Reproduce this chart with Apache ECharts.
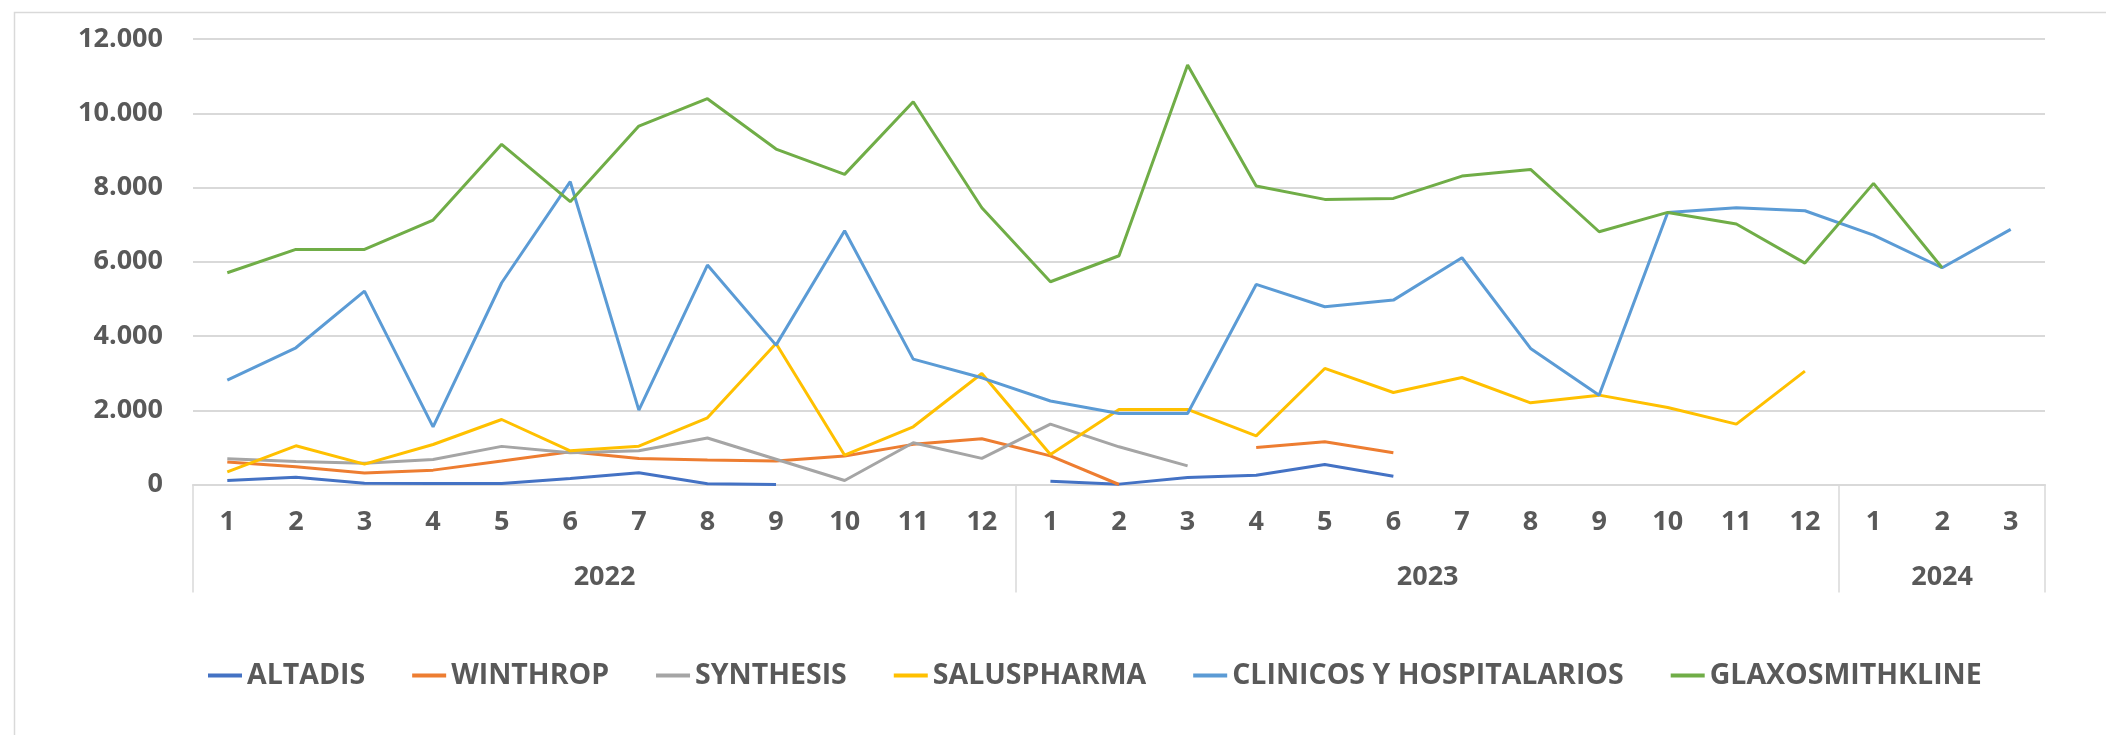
<!DOCTYPE html>
<html>
<head>
<meta charset="utf-8">
<script src="https://cdn.jsdelivr.net/npm/echarts@6/dist/echarts.min.js"></script>
<style>
  html, body { margin: 0; padding: 0; background: #fff; }
  #main { width: 2106px; height: 735px; }
</style>
</head>
<body>
<div id="main"></div>
<script>
// meses y años (eje de categorías de dos niveles)
var months = ['1','2','3','4','5','6','7','8','9','10','11','12',
              '1','2','3','4','5','6','7','8','9','10','11','12',
              '1','2','3'];
var years = ['2022', '2023', '2024'];
var yearLengths = [12, 12, 3];

var seriesNames = ['ALTADIS', 'WINTHROP', 'SYNTHESIS', 'SALUSPHARMA', 'CLINICOS Y HOSPITALARIOS', 'GLAXOSMITHKLINE'];

var altadis = [108, 198, 35, 27, 27, 162, 315, 18, 0, null, null, null,
               90, 10, 189, 251, 539, 225, null, null, null, null, null, null,
               null, null, null];
var winthrop = [604, 477, 310, 387, 631, 883, 703, 658, 631, 766, 1081, 1234,
                770, 0, null, 997, 1150, 853, null, null, null, null, null, null,
                null, null, null];
var synthesis = [694, 622, 575, 676, 1027, 856, 910, 1252, 680, 108, 1126, 703,
                 1626, 1015, 503, null, null, null, null, null, null, null, null, null,
                 null, null, null];
var saluspharma = [341, 1042, 550, 1078, 1751, 907, 1033, 1796, 3799, 790, 1554, 2991,
                   808, 2021, 2021, 1311, 3126, 2479, 2883, 2201, 2407, 2075, 1626, 3054,
                   null, null, null];
var clinicos = [2811, 3683, 5210, 1554, 5434, 8156, 2003, 5910, 3754, 6835, 3377, 2874,
                2250, 1913, 1913, 5389, 4787, 4967, 6108, 3665, 2407, 7329, 7455, 7374,
                6719, 5838, 6871];
var glaxo = [5704, 6332, 6332, 7123, 9162, 7617, 9656, 10392, 9036, 8353, 10311, 7455,
             5461, 6162, 11299, 8039, 7680, 7706, 8308, 8488, 6808, 7329, 7015, 5964,
             8111, 5838, null];

var colors = ['#4472C4', '#ED7D31', '#A5A5A5', '#FFC000', '#5B9BD5', '#70AD47'];
var allData = [altadis, winthrop, synthesis, saluspharma, clinicos, glaxo];

var textColor = '#595959';
var gridColor = '#D9D9D9';
var font = '"Open Sans", "Liberation Sans", sans-serif';

// inicio de cada año (indice) y centro de su etiqueta
var yearStarts = [];
var yearCenters = {};
var acc = 0;
for (var i = 0; i < years.length; i++) {
	yearStarts.push(acc);
	yearCenters[acc + yearLengths[i] / 2] = years[i];
	acc += yearLengths[i];
}

// 12000 -> "12.000"
function fmtMiles(v) {
	if (v < 1000) return String(v);
	var r = String(v % 1000);
	while (r.length < 3) r = '0' + r;
	return Math.floor(v / 1000) + '.' + r;
}

var series = [];
for (var s = 0; s < seriesNames.length; s++) {
	series.push({
		name: seriesNames[s],
		type: 'line',
		data: allData[s],
		showSymbol: false,
		symbol: 'none',
		connectNulls: false,
		lineStyle: { width: 3, color: colors[s] },
		itemStyle: { color: colors[s] }
	});
}

var myChart = echarts.init(document.getElementById('main'));

var option = {
	backgroundColor: '#fff',
	animation: false,
	graphic: [{
		type: 'rect',
		left: 12,
		top: 10,
		shape: { width: 2200, height: 800 },
		style: { fill: 'none', stroke: gridColor, lineWidth: 1.5 },
		z: -10
	}],
	grid: {
		left: 193,
		right: 61,
		top: 39,
		bottom: 250.5
	},
	legend: {
		data: seriesNames,
		left: 203,
		top: 656,
		icon: 'rect',
		itemWidth: 34,
		itemHeight: 4,
		itemGap: 47,
		textStyle: {
			color: textColor,
			fontSize: 28.5,
			fontWeight: 'bold',
			fontFamily: font
		}
	},
	xAxis: [{
		type: 'category',
		data: months,
		boundaryGap: true,
		position: 'bottom',
		axisLine: { lineStyle: { color: gridColor, width: 2 } },
		axisTick: {
			show: true,
			length: 108,
			interval: function (index) {
				return yearStarts.indexOf(index) >= 0;
			},
			lineStyle: { color: gridColor, width: 1.5 }
		},
		axisLabel: {
			interval: 0,
			margin: 24,
			color: textColor,
			fontSize: 27,
			lineHeight: 27,
			fontWeight: 'bold',
			fontFamily: font
		}
	}, {
		type: 'value',
		min: 0,
		max: months.length,
		interval: 0.5,
		position: 'bottom',
		axisLine: { show: false },
		axisTick: { show: false },
		splitLine: { show: false },
		axisLabel: {
			margin: 79,
			color: textColor,
			fontSize: 27,
			lineHeight: 27,
			fontWeight: 'bold',
			fontFamily: font,
			formatter: function (v) {
				return yearCenters[v] || '';
			}
		}
	}],
	yAxis: {
		type: 'value',
		min: 0,
		max: 12000,
		interval: 2000,
		axisLine: { show: false },
		axisTick: { show: false },
		splitLine: { lineStyle: { color: gridColor, width: 2 } },
		axisLabel: {
			margin: 30,
			color: textColor,
			fontSize: 27,
			fontWeight: 'bold',
			fontFamily: font,
			formatter: fmtMiles
		}
	},
	series: series
};

myChart.setOption(option);
</script>
</body>
</html>
